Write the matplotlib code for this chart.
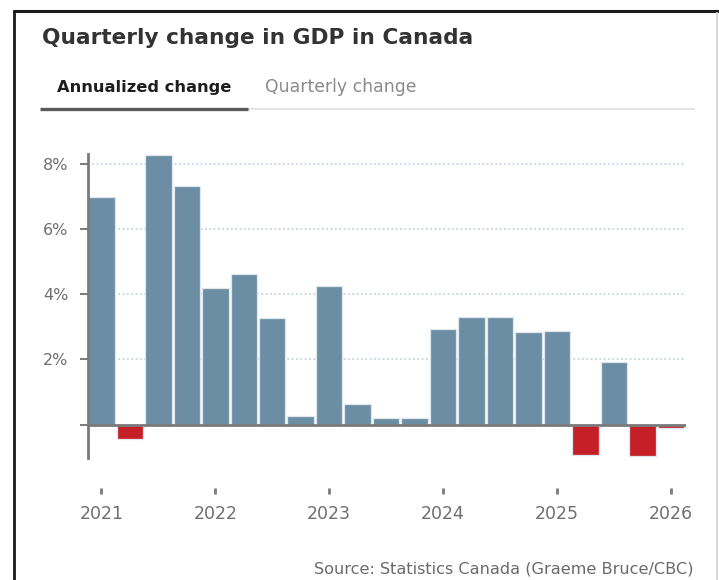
import matplotlib
matplotlib.use("Agg")
import matplotlib.pyplot as plt
from matplotlib.lines import Line2D
import numpy as np

# ---- data ----
quarters = ["2021 Q1", "2021 Q2", "2021 Q3", "2021 Q4",
            "2022 Q1", "2022 Q2", "2022 Q3", "2022 Q4",
            "2023 Q1", "2023 Q2", "2023 Q3", "2023 Q4",
            "2024 Q1", "2024 Q2", "2024 Q3", "2024 Q4",
            "2025 Q1", "2025 Q2", "2025 Q3", "2025 Q4",
            "2026 Q1"]
annualized_change = [7.0, -0.46, 8.28, 7.35,
                     4.21, 4.62, 3.27, 0.26,
                     4.27, 0.63, 0.2, 0.2,
                     2.94, 3.3, 3.3, 2.84,
                     2.88, -0.94, 1.91, -0.97,
                     -0.12]
year_labels = ["2021", "2022", "2023", "2024", "2025", "2026"]
y_ticks = [0, 2, 4, 6, 8]
y_tick_labels = ["", "2%", "4%", "6%", "8%"]

title = "Quarterly change in GDP in Canada"
tab_active = "Annualized change"
tab_inactive = "Quarterly change"
source = "Source: Statistics Canada (Graeme Bruce/CBC)"

plt.rcParams["font.family"] = ["DejaVu Sans"]

W, H = 719, 580
fig = plt.figure(figsize=(W / 100, H / 100), dpi=100)
fig.patch.set_facecolor("white")

def fx(px):
    return px / W

def fy(py):
    return (H - py) / H

# ---- axes ----
ax_left, ax_right, ax_top, ax_bottom = 88, 686, 154, 458
ax = fig.add_axes([fx(ax_left), fy(ax_bottom), fx(ax_right - ax_left),
                   (ax_bottom - ax_top) / H])
x = np.arange(len(annualized_change))
vals = np.array(annualized_change)
colors = np.where(vals >= 0, "#6b8ea4", "#c51f28")
ax.bar(x, vals, width=0.93, color=colors, edgecolor="#dfe7ed", linewidth=0.9,
       zorder=2)

ax.set_xlim(-0.47, len(vals) - 0.47)
ax.set_ylim(-1.03, 8.32)

ax.set_axisbelow(True)
ax.set_yticks(y_ticks)
ax.set_yticklabels(y_tick_labels)
ax.yaxis.grid(True, color="#c9d3da", linewidth=1.3, linestyle=(0, (1, 1.4)))
ax.xaxis.grid(False)
ax.get_ygridlines()[0].set_visible(False)
ax.axhline(0, color="#7a7a7a", linewidth=2.0, zorder=3)

year_pos = [4 * i for i in range(len(year_labels))]
ax.set_xticks(year_pos)
ax.set_xticklabels(year_labels)

for s in ["top", "right"]:
    ax.spines[s].set_visible(False)
ax.spines["bottom"].set_position(("outward", 21.6))
ax.spines["bottom"].set_visible(False)
ax.spines["left"].set_color("#7a7a7a")
ax.spines["left"].set_linewidth(2.0)

ax.tick_params(axis="y", length=6, width=1.4, color="#7a7a7a", pad=8,
               labelsize=11.5, labelcolor="#6f6f6f")
ax.tick_params(axis="x", length=4, width=2, color="#7a7a7a", pad=8,
               labelsize=12.5, labelcolor="#6f6f6f")

# ---- header ----
fig.text(fx(42), fy(43.5), title, fontsize=15.6, fontweight="bold",
         color="#333333", va="baseline", ha="left")
fig.text(fx(57), fy(92), tab_active, fontsize=11.7, fontweight="bold",
         color="#1e1e1e", va="baseline", ha="left")
fig.text(fx(265), fy(92), tab_inactive, fontsize=12.4, color="#8a8a8a",
         va="baseline", ha="left")
fig.add_artist(Line2D([fx(248), fx(694)], [fy(108.5), fy(108.5)],
                      color="#e4e4e4", linewidth=1.6))
fig.add_artist(Line2D([fx(40), fx(248)], [fy(108.5), fy(108.5)],
                      color="#5a5a5a", linewidth=2.4, solid_capstyle="butt"))

# ---- source ----
fig.text(fx(693), fy(573), source, fontsize=11.6, color="#6a6a6a",
         va="baseline", ha="right")

# ---- frame ----
fig.add_artist(Line2D([fx(13.8), fx(13.8)], [0, fy(10)], color="#1a1a1a",
                      linewidth=2.0, solid_capstyle="butt"))
fig.add_artist(Line2D([fx(13), 1], [fy(10.8), fy(10.8)], color="#1a1a1a",
                      linewidth=2.2, solid_capstyle="butt"))
fig.add_artist(Line2D([fx(716.5), fx(716.5)], [0, fy(12)], color="#d2d2d2",
                      linewidth=1.2, solid_capstyle="butt"))

fig.savefig("out.png", dpi=100, facecolor="white")
